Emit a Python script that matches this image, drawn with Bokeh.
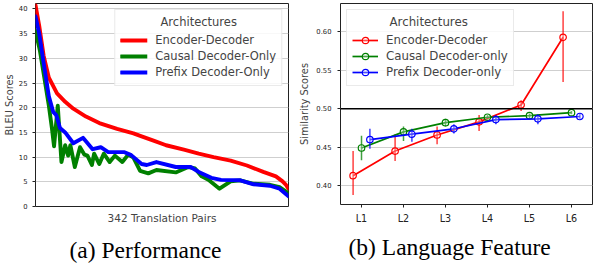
from bokeh.plotting import figure
from bokeh.layouts import row
from bokeh.models import (ColumnDataSource, Range1d, FactorRange, FixedTicker,
                          Span, Title, NumeralTickFormatter)
from bokeh.transform import dodge
from bokeh.embed import file_html
from bokeh.resources import INLINE

# ---------------- (a) Performance : BLEU per translation pair (sorted) ----------------
enc_idx = [0, 5, 11, 18, 29, 40, 51, 68, 86, 110, 132, 143, 160, 176, 200, 220, 240,
           263, 285, 307, 324, 333, 337, 341]
enc_bleu = [40.8, 36.6, 30.5, 26.1, 22.9, 21.2, 19.8, 18.2, 16.9, 15.7, 14.8, 14.2, 13.3,
            12.4, 11.5, 10.7, 10.0, 9.3, 8.3, 7.0, 6.1, 5.1, 4.5, 3.6]

cau_idx = [0, 6, 12, 18, 22, 25, 30, 35, 40, 44, 47, 53, 60, 66, 70, 76, 79, 86, 92,
           100, 107, 117, 125, 132, 141, 152, 163, 189, 206, 215, 224, 233, 248, 263,
           276, 294, 316, 329, 341]
cau_bleu = [35.6, 31.5, 26.0, 20.4, 16.0, 12.2, 20.4, 9.0, 12.4, 10.3, 12.4, 8.0, 12.0,
            10.5, 10.3, 8.4, 10.7, 8.6, 10.7, 9.0, 10.3, 9.0, 10.5, 9.9, 7.2, 6.7, 7.4,
            6.9, 8.0, 7.7, 6.1, 5.4, 3.6, 5.1, 5.3, 4.6, 4.4, 3.9, 2.7]

pre_idx = [0, 5, 10, 18, 24, 28, 33, 40, 51, 64, 77, 88, 98, 120, 129, 143, 150, 163,
           189, 209, 220, 237, 250, 276, 294, 316, 329, 341]
pre_bleu = [38.5, 35.0, 30.0, 22.3, 19.1, 18.5, 15.9, 15.0, 12.8, 13.9, 11.6, 12.0, 11.0,
            11.0, 10.4, 8.6, 8.4, 9.0, 8.0, 8.0, 7.0, 5.8, 5.4, 5.3, 4.5, 4.2, 3.6, 2.1]

bleu_ticks = [0, 5, 10, 15, 20, 25, 30, 35, 40]

# ---------------- (b) Language Feature : similarity per level ----------------
levels = ["L1", "L2", "L3", "L4", "L5", "L6"]
enc_sim = [0.413, 0.445, 0.466, 0.483, 0.505, 0.593]
enc_lo = [0.388, 0.432, 0.454, 0.471, 0.497, 0.535]
enc_hi = [0.445, 0.467, 0.477, 0.492, 0.511, 0.627]
cau_sim = [0.449, 0.470, 0.482, 0.489, 0.491, 0.495]
cau_lo = [0.433, 0.458, 0.477, 0.486, 0.488, 0.493]
cau_hi = [0.465, 0.477, 0.487, 0.492, 0.494, 0.497]
pre_sim = [0.460, 0.467, 0.474, 0.486, 0.487, 0.490]
pre_lo = [0.448, 0.457, 0.468, 0.480, 0.480, 0.487]
pre_hi = [0.474, 0.474, 0.480, 0.492, 0.493, 0.494]
sim_ticks = [0.40, 0.45, 0.50, 0.55, 0.60]
reference_level = 0.50

names = ["Encoder-Decoder", "Causal Decoder-Only", "Prefix Decoder-Only"]
names_b = ["Encoder-Decoder", "Causal Decoder-only", "Prefix Decoder-only"]
colors = ["#ff0000", "#008000", "#0000ff"]

FONT = "DejaVu Sans"
SERIF = "Liberation Serif"


def style_common(p):
    p.background_fill_color = "white"
    p.border_fill_color = "white"
    p.outline_line_color = "#222222"
    p.outline_line_width = 1
    p.xgrid.grid_line_color = None
    p.ygrid.grid_line_color = "#cfcfcf"
    p.ygrid.grid_line_width = 1
    for ax in p.axis:
        ax.axis_line_color = None
        ax.minor_tick_line_color = None
        ax.major_tick_in = 0
        ax.major_tick_line_color = "#222222"
        ax.axis_label_text_font = FONT
        ax.axis_label_text_font_style = "normal"
        ax.major_label_text_font = FONT
        ax.major_label_text_color = "#222222"


# ---------------- figure (a) ----------------
p1 = figure(frame_width=253, frame_height=203, min_border_left=29, min_border_right=8,
            min_border_top=1, min_border_bottom=0,
            x_range=Range1d(0, 341), y_range=Range1d(0, 41.1),
            output_backend="svg", toolbar_location=None)
style_common(p1)
p1.xaxis.ticker = FixedTicker(ticks=[])
p1.xaxis.major_tick_out = 0
p1.xaxis.major_label_standoff = 0
p1.xaxis.axis_label = "342 Translation Pairs"
p1.xaxis.axis_label_text_font_size = "10.5px"
p1.xaxis.axis_label_standoff = 5
p1.yaxis.ticker = FixedTicker(ticks=bleu_ticks)
p1.yaxis.major_tick_out = 3
p1.yaxis.major_label_standoff = 5
p1.yaxis.major_label_text_font_size = "6.8px"
p1.yaxis.axis_label = "BLEU Scores"
p1.yaxis.axis_label_text_font_size = "9.8px"
p1.yaxis.axis_label_standoff = 1

for xs, ys, name, c in zip([enc_idx, cau_idx, pre_idx], [enc_bleu, cau_bleu, pre_bleu],
                           names, colors):
    p1.line(xs, ys, line_color=c, line_width=3.9, line_join="round",
            line_cap="round", legend_label=name)

lg1 = p1.legend[0]
lg1.location = "top_right"
lg1.margin = 6
lg1.padding = 5
lg1.spacing = 0
lg1.label_height = 16
lg1.glyph_height = 16
lg1.glyph_width = 27
lg1.label_standoff = 8
lg1.label_text_font = FONT
lg1.label_text_font_size = "11.5px"
lg1.title = "\u00a0" * 11 + "Architectures"
lg1.title_text_font = FONT
lg1.title_text_font_size = "11.5px"
lg1.title_text_font_style = "normal"
lg1.title_standoff = 3
lg1.border_line_color = "#d6d6d6"
lg1.border_line_width = 1
lg1.background_fill_alpha = 0.85

p1.add_layout(Title(text="(a) Performance", align="left", offset=34,
                    text_font=SERIF, text_font_size="23.5px",
                    text_font_style="normal", text_color="black", standoff=16), "below")

# ---------------- figure (b) ----------------
src = ColumnDataSource(dict(level=levels,
                            enc=enc_sim, enc_lo=enc_lo, enc_hi=enc_hi,
                            cau=cau_sim, cau_lo=cau_lo, cau_hi=cau_hi,
                            pre=pre_sim, pre_lo=pre_lo, pre_hi=pre_hi))

p2 = figure(frame_width=252, frame_height=201, min_border_left=39, min_border_right=1,
            min_border_top=3, min_border_bottom=0,
            x_range=FactorRange(*levels, range_padding=0, range_padding_units="absolute"),
            y_range=Range1d(0.3755, 0.637),
            output_backend="svg", toolbar_location=None)
style_common(p2)
p2.xaxis.major_tick_out = 3
p2.xaxis.major_label_standoff = 5
p2.xaxis.major_label_text_font_size = "9.6px"
p2.yaxis.ticker = FixedTicker(ticks=sim_ticks)
p2.yaxis.formatter = NumeralTickFormatter(format="0.00")
p2.yaxis.major_tick_out = 3
p2.yaxis.major_label_standoff = 6
p2.yaxis.major_label_text_font_size = "6.8px"
p2.yaxis.axis_label = "Similarity Scores"
p2.yaxis.axis_label_text_font_size = "9.8px"
p2.yaxis.axis_label_standoff = 3

p2.add_layout(Span(location=reference_level, dimension="width",
                   line_color="black", line_width=1.5))

for key, off, name, c in zip(["enc", "cau", "pre"], [-0.2, 0.0, 0.2], names_b, colors):
    xd = dodge("level", off, range=p2.x_range)
    p2.segment(x0=xd, y0=key + "_lo", x1=xd, y1=key + "_hi", source=src,
               line_color=c, line_width=1.5, line_alpha=0.75)
    p2.line(x=xd, y=key, source=src, line_color=c, line_width=1.7, legend_label=name)
    p2.scatter(x=xd, y=key, source=src, marker="circle", size=6.5, line_color=c,
               line_width=1.2, fill_color="white", fill_alpha=0.3, legend_label=name)

lg2 = p2.legend[0]
lg2.location = "top_left"
lg2.margin = 6
lg2.padding = 5
lg2.spacing = 0
lg2.label_height = 16
lg2.glyph_height = 16
lg2.glyph_width = 26
lg2.label_standoff = 8
lg2.label_text_font = FONT
lg2.label_text_font_size = "11.8px"
lg2.title = "\u00a0" * 10 + "Architectures"
lg2.title_text_font = FONT
lg2.title_text_font_size = "11.8px"
lg2.title_text_font_style = "normal"
lg2.title_standoff = 3
lg2.border_line_color = "#d6d6d6"
lg2.border_line_width = 1
lg2.background_fill_alpha = 0.85

p2.add_layout(Title(text="(b) Language Feature", align="left", offset=8,
                    text_font=SERIF, text_font_size="23.5px",
                    text_font_style="normal", text_color="black", standoff=11), "below")

layout = row(p1, p2)
open("out.html", "w").write(file_html(layout, INLINE))
